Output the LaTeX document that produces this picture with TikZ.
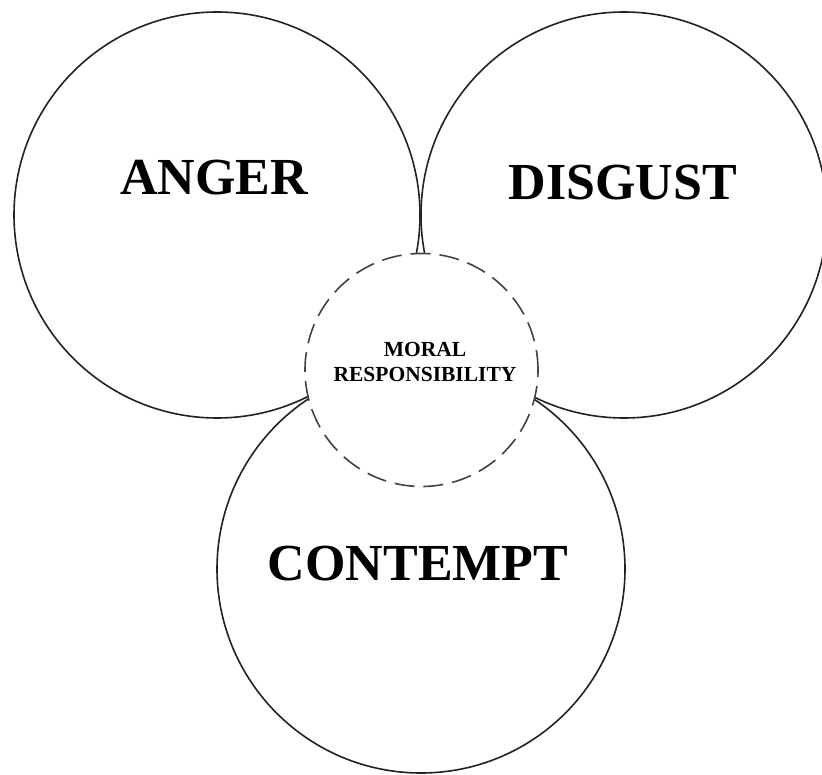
\documentclass[tikz,border=0pt]{standalone}
\usepackage{fontspec}
\setmainfont{Liberation Serif}
\usetikzlibrary{positioning}
\definecolor{cline}{HTML}{222222}
\tikzset{
  every picture/.style={line width=1.6pt},
  emotion/.style={circle, draw=cline, inner sep=0pt, minimum size=#1},
  emotion/.default=406pt,
  core/.style={circle, draw=cline!85, fill=white, dash pattern=on 20pt off 9pt, inner sep=0pt, minimum size=233pt},
  big/.style={font=\fontsize{52}{60}\selectfont\bfseries, inner sep=0pt},
  small/.style={font=\fontsize{21.5}{25}\selectfont\bfseries, inner sep=0pt, align=center},
}
\begin{document}
\begin{tikzpicture}[x=1pt, y=-1pt]
  \useasboundingbox (0,0) rectangle (822,775);
  \node[emotion] (anger) at (217,215) {};
  \node[emotion] (disgust) at (624,215) {};
  \node[emotion=408pt] (contempt) at (421,569) {};
  \node[core] (moral) at (421.5,370) {};
  \node[big] (angertxt) at (214,178) {ANGER};
  \node[big] (disgusttxt) at (623,183) {DISGUST};
  \node[big] (contempttxt) at (418,564) {CONTEMPT};
  \node[small] (moraltxt) at (425,362) {MORAL\\RESPONSIBILITY};
\end{tikzpicture}
\end{document}
